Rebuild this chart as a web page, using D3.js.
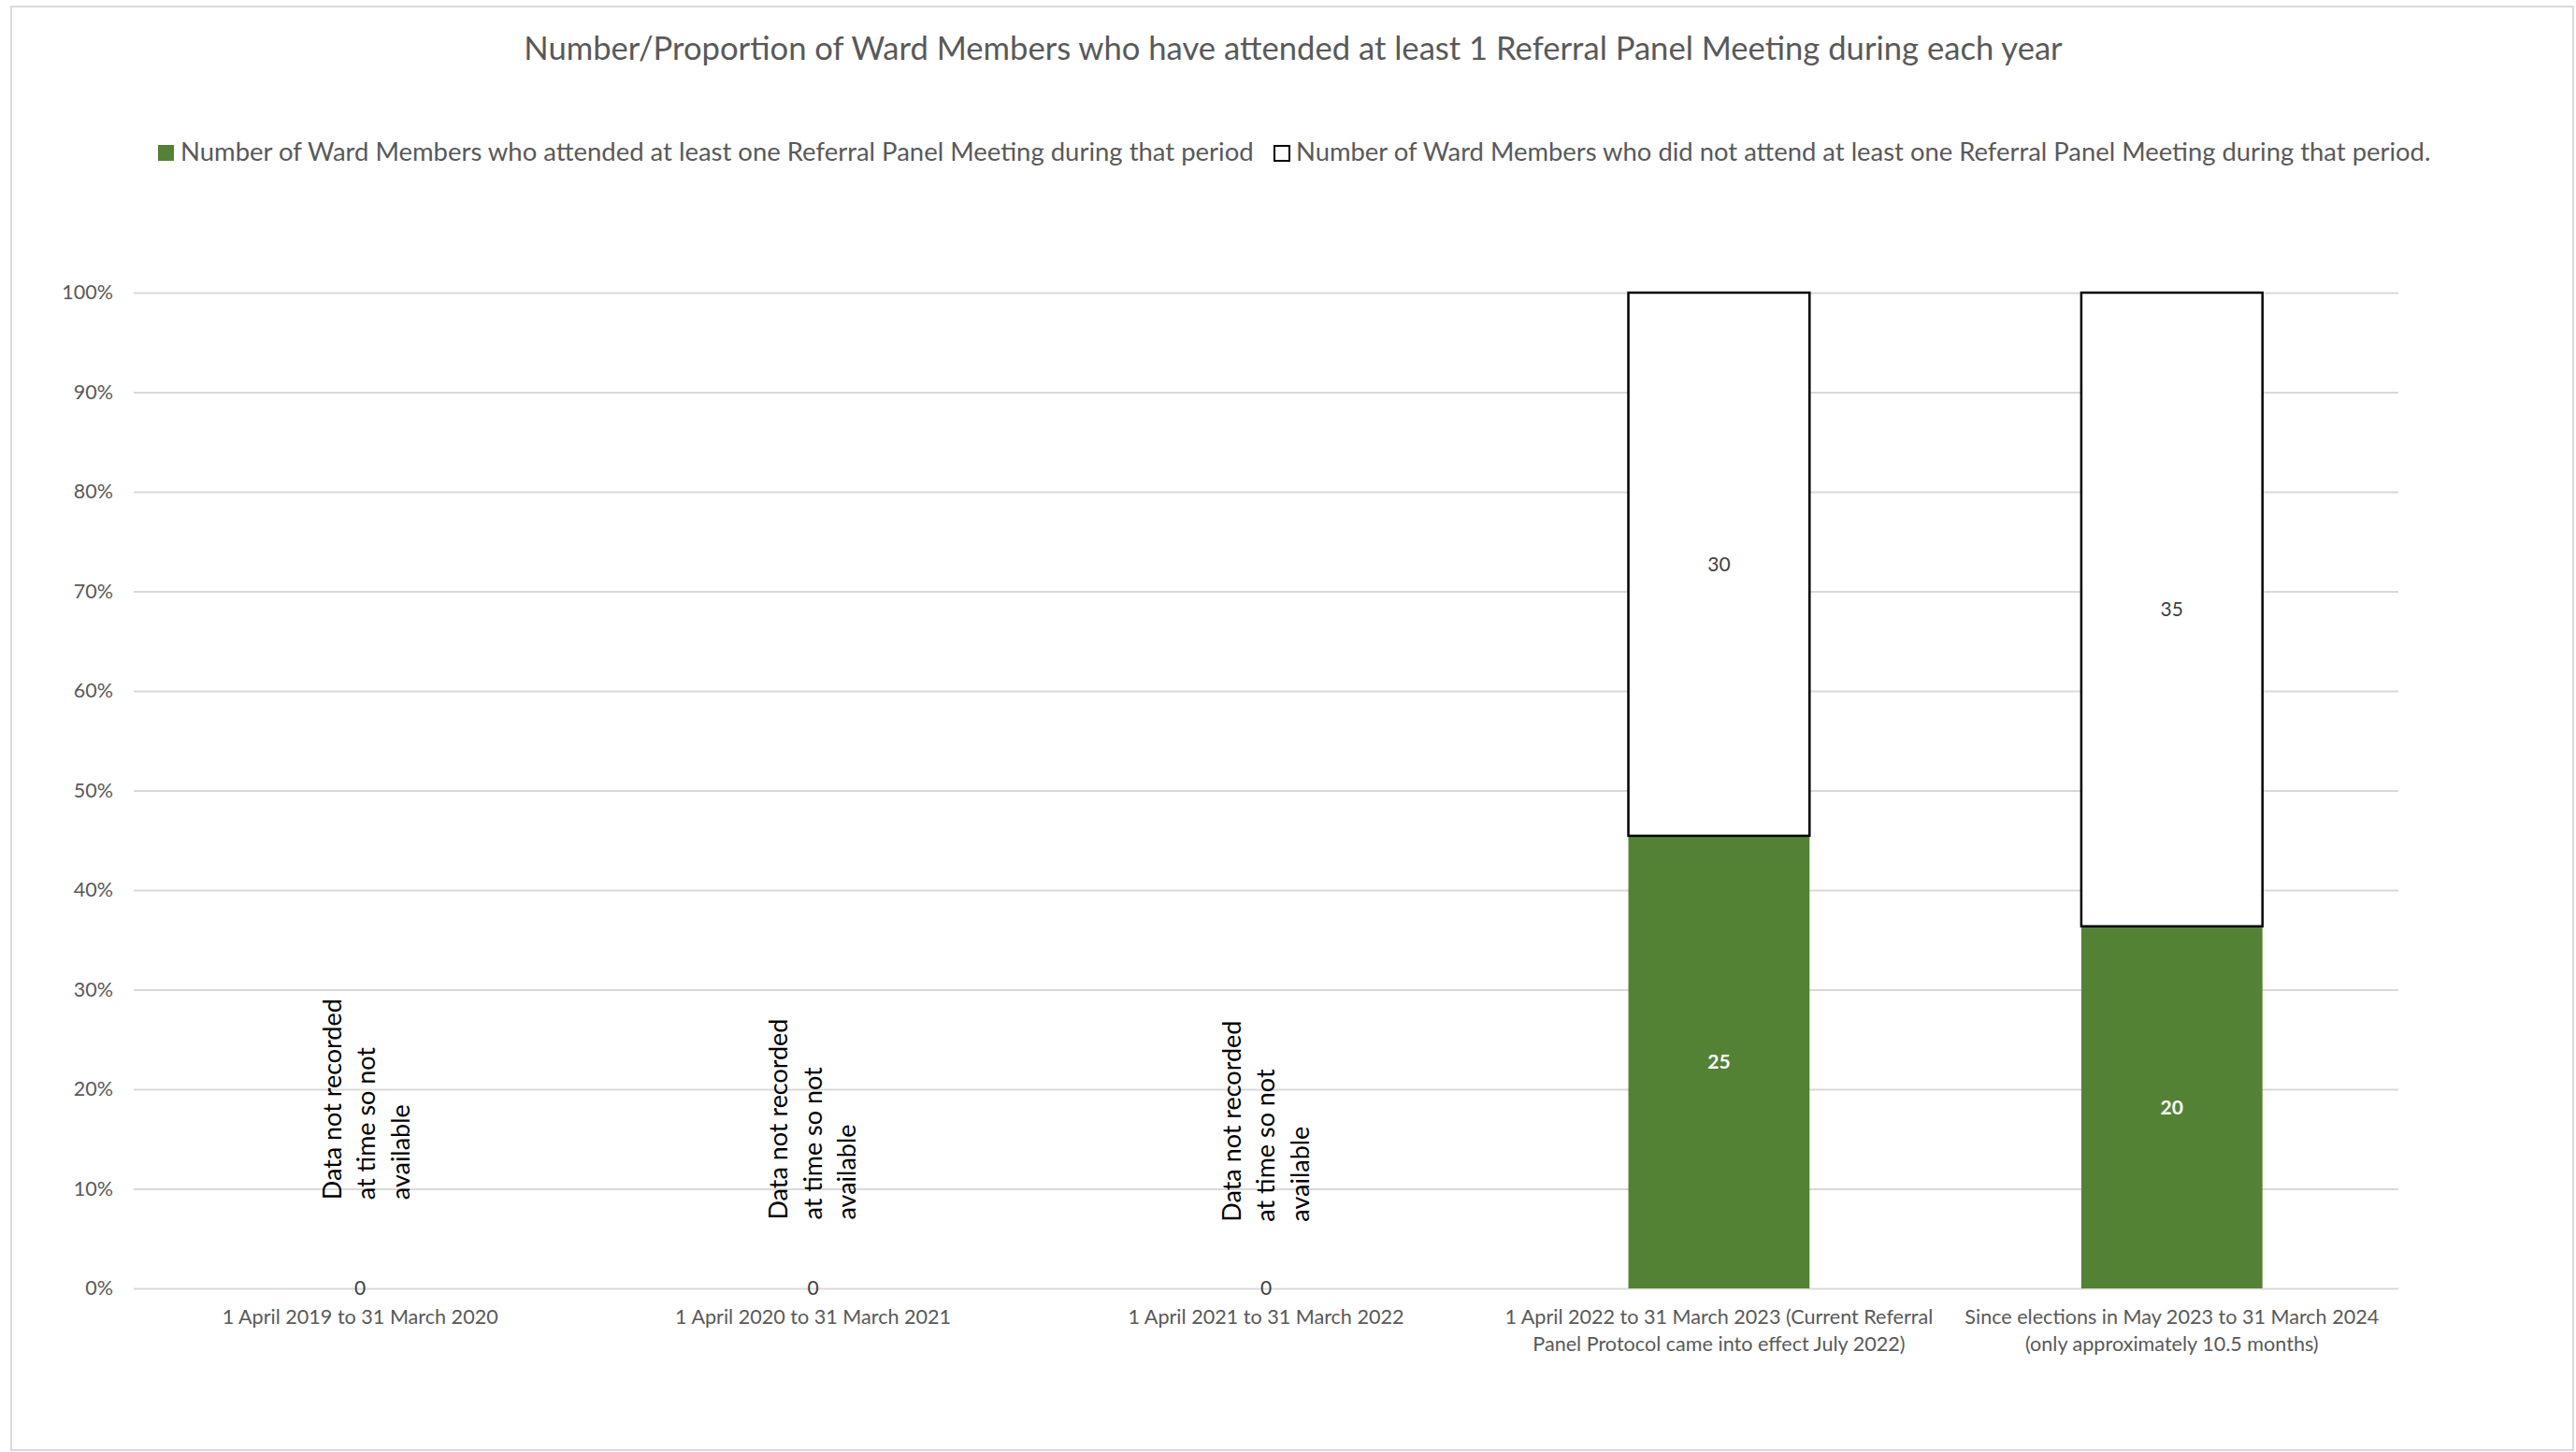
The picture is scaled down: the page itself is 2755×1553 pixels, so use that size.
<!DOCTYPE html>
<html>
<head>
<meta charset="utf-8">
<script src="https://cdn.jsdelivr.net/npm/d3@7"></script>
<style>
  html, body { margin: 0; padding: 0; background: #ffffff; }
  svg { display: block; }
  text { font-family: Lato, "Open Sans", "Noto Sans", sans-serif; }
</style>
</head>
<body>
<svg id="chart" width="2755" height="1553"></svg>
<script>
// ---------------- DATA ----------------
const title = "Number/Proportion of Ward Members who have attended at least 1 Referral Panel Meeting during each year";
const categories = [
  "1 April 2019 to 31 March 2020",
  "1 April 2020 to 31 March 2021",
  "1 April 2021 to 31 March 2022",
  "1 April 2022 to 31 March 2023 (Current Referral Panel Protocol came into effect July 2022)",
  "Since elections in May 2023 to 31 March 2024 (only approximately 10.5 months)"
];
const categoryLines = [
  ["1 April 2019 to 31 March 2020"],
  ["1 April 2020 to 31 March 2021"],
  ["1 April 2021 to 31 March 2022"],
  ["1 April 2022 to 31 March 2023 (Current Referral", "Panel Protocol came into effect July 2022)"],
  ["Since elections in May 2023 to 31 March 2024", "(only approximately 10.5 months)"]
];
const seriesNames = [
  "Number of Ward Members who attended at least one Referral Panel Meeting during that period",
  "Number of Ward Members who did not attend at least one Referral Panel Meeting during that period."
];
const attended    = [0, 0, 0, 25, 20];
const notAttended = [0, 0, 0, 30, 35];
const yTicks      = [0, 0.1, 0.2, 0.3, 0.4, 0.5, 0.6, 0.7, 0.8, 0.9, 1.0];
const yTickLabels = ["0%", "10%", "20%", "30%", "40%", "50%", "60%", "70%", "80%", "90%", "100%"];
const noteLines   = ["Data not recorded", "at time so not", "available"];
const noteShown   = [true, true, true, false, false];
const noteLevel   = [0.089, 0.069, 0.067, 0, 0];   // where the note starts, in axis units

// ---------------- LAYOUT ----------------
const W = 2755, H = 1553;
const plot = { left: 143, right: 2565, top: 313, bottom: 1378 };
const green = "#548235";
const greyText = "#595959";
const gridCol = "#d9d9d9";

const svg = d3.select("#chart");

function fitWidth(sel, target) {
  const node = sel.node();
  const fs = parseFloat(sel.attr("font-size"));
  const len = node.getComputedTextLength();
  if (len > 0) sel.attr("font-size", (fs * target / len).toFixed(2));
  return sel;
}

// chart frame
svg.append("rect")
  .attr("x", 12).attr("y", 7).attr("width", W - 15).attr("height", H - 9)
  .attr("fill", "#ffffff").attr("stroke", gridCol).attr("stroke-width", 2);

// title
fitWidth(svg.append("text")
  .attr("x", 1383).attr("y", 64)
  .attr("text-anchor", "middle")
  .attr("font-size", 32)
  .attr("fill", greyText)
  .text(title), 1646);

// legend
const leg = svg.append("g");
leg.append("rect").attr("x", 169).attr("y", 155).attr("width", 17).attr("height", 17).attr("fill", green);
fitWidth(leg.append("text").attr("x", 193).attr("y", 172).attr("font-size", 26).attr("fill", greyText)
  .text(seriesNames[0]), 1148);
leg.append("rect").attr("x", 1363).attr("y", 156).attr("width", 16).attr("height", 16)
  .attr("fill", "#ffffff").attr("stroke", "#000000").attr("stroke-width", 2);
fitWidth(leg.append("text").attr("x", 1386).attr("y", 172).attr("font-size", 26).attr("fill", greyText)
  .text(seriesNames[1]), 1214);

// scales
const x = d3.scaleBand()
  .domain(categories)
  .range([plot.left, plot.right])
  .paddingInner(0.6)
  .paddingOuter(0.3);
const y = d3.scaleLinear().domain([0, 1]).range([plot.bottom, plot.top]);

// gridlines + y axis
const yAxis = d3.axisLeft(y)
  .tickValues(yTicks)
  .tickFormat((d, i) => yTickLabels[i])
  .tickSize(-(plot.right - plot.left))
  .tickPadding(22);
const gy = svg.append("g").attr("transform", `translate(${plot.left},0)`).call(yAxis);
gy.select(".domain").remove();
gy.selectAll(".tick line").attr("stroke", gridCol).attr("stroke-width", 2);
gy.selectAll(".tick text")
  .attr("fill", greyText)
  .attr("font-size", 21.5)
  .attr("font-family", "Lato, sans-serif");

// stacked data (100% stacked)
const rows = categories.map((c, i) => {
  const tot = attended[i] + notAttended[i];
  return {
    cat: c, i,
    a: attended[i], n: notAttended[i],
    pa: tot ? attended[i] / tot : 0,
    pn: tot ? notAttended[i] / tot : 0
  };
});

const bars = svg.append("g");
// attended (green)
bars.selectAll("rect.att").data(rows.filter(r => r.pa > 0)).join("rect")
  .attr("class", "att")
  .attr("x", r => x(r.cat))
  .attr("width", x.bandwidth())
  .attr("y", r => y(r.pa))
  .attr("height", r => y(0) - y(r.pa))
  .attr("fill", green);
// not attended (white with black outline)
bars.selectAll("rect.not").data(rows.filter(r => r.pn > 0)).join("rect")
  .attr("class", "not")
  .attr("x", r => x(r.cat))
  .attr("width", x.bandwidth())
  .attr("y", r => y(r.pa + r.pn))
  .attr("height", r => y(r.pa) - y(r.pa + r.pn))
  .attr("fill", "#ffffff")
  .attr("stroke", "#000000")
  .attr("stroke-width", 2.5);

// data labels
const lab = svg.append("g").attr("text-anchor", "middle");
lab.selectAll("text.la").data(rows).join("text")
  .attr("class", "la")
  .attr("x", r => x(r.cat) + x.bandwidth() / 2)
  .attr("y", r => (y(0) + y(r.pa)) / 2)
  .attr("dy", "0.35em")
  .attr("font-size", 21)
  .attr("font-weight", r => r.a > 0 ? "bold" : "normal")
  .attr("fill", r => r.a > 0 ? "#ffffff" : "#404040")
  .text(r => r.a);
lab.selectAll("text.ln").data(rows.filter(r => r.n > 0)).join("text")
  .attr("class", "ln")
  .attr("x", r => x(r.cat) + x.bandwidth() / 2)
  .attr("y", r => (y(r.pa) + y(r.pa + r.pn)) / 2)
  .attr("dy", "0.35em")
  .attr("font-size", 21)
  .attr("fill", "#404040")
  .text(r => r.n);

// "data not recorded" notes (rotated)
rows.filter(r => noteShown[r.i]).forEach(r => {
  const cx = x(r.cat) + x.bandwidth() / 2 + (r.i === 0 ? 7 : 0);
  const g = svg.append("g")
    .attr("transform", `translate(${cx},${y(noteLevel[r.i])}) rotate(-90)`);
  const t = g.append("text")
    .attr("x", 0).attr("y", 0)
    .attr("font-size", 25)
    .attr("fill", "#000000");
  noteLines.forEach((ln, k) => {
    t.append("tspan")
      .attr("x", 0)
      .attr("y", (k - 1) * 36.5 + 9)
      .text(ln);
  });
  const first = t.select("tspan").node();
  const len = first.getComputedTextLength();
  t.attr("font-size", (25 * 215 / len).toFixed(2));
});

// category labels
const xl = svg.append("g").attr("text-anchor", "middle");
categories.forEach((c, i) => {
  const t = xl.append("text")
    .attr("font-size", 21)
    .attr("fill", greyText);
  categoryLines[i].forEach((ln, k) => {
    t.append("tspan")
      .attr("x", x(c) + x.bandwidth() / 2)
      .attr("y", 1416 + k * 29)
      .text(ln);
  });
});
(function () {
  const t0 = xl.select("text tspan").node();
  const len = t0.getComputedTextLength();
  const fs = 21 * 295 / len;
  xl.selectAll("text").attr("font-size", fs.toFixed(2));
})();
</script>
</body>
</html>
